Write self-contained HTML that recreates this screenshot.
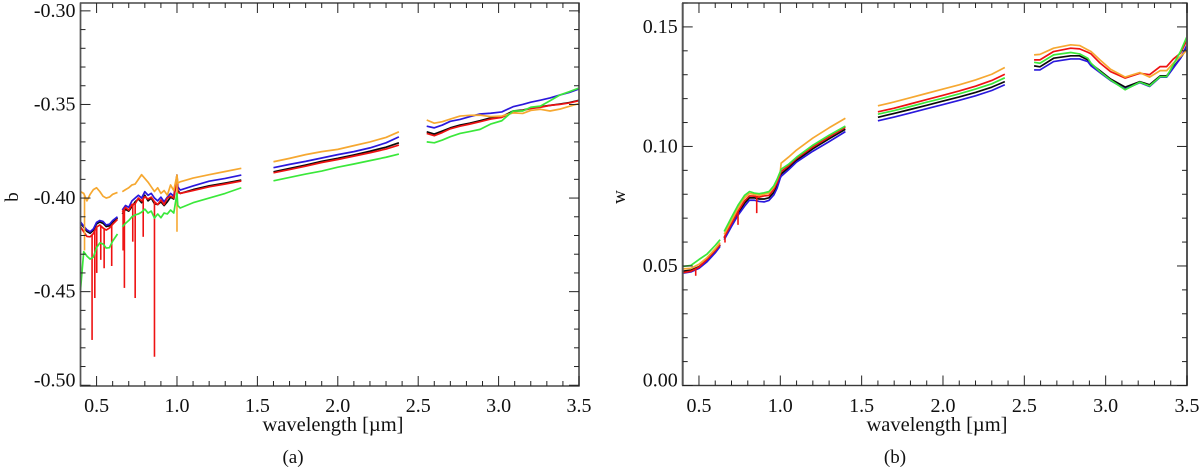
<!DOCTYPE html>
<html lang="en">
<head>
<meta charset="utf-8">
<title>Spectral parameters b and w versus wavelength</title>
<style>
html,body{margin:0;padding:0;background:#fff;}
body{width:1200px;height:467px;overflow:hidden;}
svg{display:block;font-family:"Liberation Serif",serif;}
text{fill:#111;}
</style>
</head>
<body>
<svg id="figure" xmlns="http://www.w3.org/2000/svg" width="1200" height="467" viewBox="0 0 1200 467"></svg>
<script>
// ---------- Panel (a): asymmetry parameter b ----------
const leftWl = [.40,.42,.44,.46,.48,.50,.52,.54,.56,.58,.60,.63,null,
 .66,.68,.70,.72,.74,.76,.78,.80,.82,.84,.86,.88,.90,.92,.94,.96,.98,1.00,1.005,1.02,1.1,1.2,1.3,1.4,null,
 1.6,1.7,1.8,1.9,2.0,2.1,2.2,2.3,2.38,null,
 2.553,2.6,2.65,2.7,2.76,2.82,2.885,2.95,3.02,3.09,3.15,3.2,3.26,3.32,3.38,3.44,3.5];
const leftBlack = [-.4135,-.4155,-.4178,-.4188,-.4172,-.4138,-.4128,-.4135,-.4152,-.4148,-.4128,-.4106,null,
 -.4085,-.406,-.407,-.4045,-.402,-.4005,-.4025,-.3985,-.4015,-.4,-.403,-.4035,-.402,-.404,-.402,-.3995,-.4005,-.389,-.396,-.3975,-.3955,-.3935,-.392,-.3904,null,
 -.386,-.3842,-.3824,-.3804,-.3788,-.377,-.375,-.3728,-.3705,null,
 -.3646,-.3658,-.3642,-.3625,-.361,-.36,-.3587,-.3572,-.3565,-.3535,-.353,-.352,-.3512,-.3505,-.3498,-.349,-.3478];
const leftBlue = [-.4127,-.415,-.417,-.418,-.4165,-.413,-.412,-.4125,-.4144,-.414,-.412,-.41,null,
 -.4064,-.404,-.405,-.4015,-.4,-.3985,-.4,-.3966,-.3985,-.3975,-.4,-.4015,-.3995,-.402,-.3995,-.3975,-.399,-.3877,-.394,-.3957,-.3935,-.391,-.3895,-.3877,null,
 -.3838,-.382,-.3804,-.3786,-.3768,-.3752,-.3732,-.3705,-.3673,null,
 -.3616,-.3625,-.361,-.359,-.358,-.3565,-.3551,-.3547,-.354,-.3512,-.35,-.3488,-.3477,-.3465,-.345,-.3436,-.3417];
const leftRed = [-.4153,-.418,-.4205,-.4207,-.419,-.4155,-.4144,-.416,-.4171,-.416,-.414,-.4114,null,
 -.4073,-.405,-.4065,-.4035,-.403,-.4,-.4015,-.3993,-.4005,-.3995,-.402,-.4035,-.401,-.4035,-.4,-.399,-.4,-.388,-.397,-.3975,-.396,-.394,-.3925,-.3909,null,
 -.3865,-.3848,-.383,-.381,-.3794,-.3776,-.3758,-.3738,-.3717,null,
 -.3655,-.3667,-.365,-.363,-.3616,-.3605,-.3592,-.3578,-.3569,-.354,-.3532,-.3522,-.3515,-.3505,-.35,-.3492,-.348];
const leftOrange = [-.3966,-.3975,-.4015,-.398,-.3955,-.3945,-.3965,-.399,-.4,-.3995,-.398,-.397,null,
 -.3966,-.3955,-.3945,-.393,-.3925,-.39,-.3875,-.3895,-.3915,-.394,-.3965,-.3945,-.3975,-.396,-.3985,-.393,-.396,-.3877,-.392,-.3913,-.3893,-.3875,-.3858,-.3841,null,
 -.3806,-.3788,-.3768,-.3752,-.374,-.372,-.37,-.3676,-.3646,null,
 -.3583,-.36,-.3592,-.3578,-.3562,-.3558,-.3557,-.3565,-.3562,-.3545,-.3548,-.3532,-.3526,-.3535,-.3525,-.351,-.3495];
const leftGreen = [-.449,-.4287,-.431,-.4326,-.4315,-.4265,-.424,-.4245,-.4267,-.4265,-.423,-.4192,null,
 -.4153,-.4135,-.412,-.41,-.409,-.4085,-.4075,-.4059,-.408,-.407,-.4107,-.4085,-.4105,-.408,-.4085,-.4064,-.408,-.3974,-.404,-.4053,-.4025,-.4,-.3975,-.3945,null,
 -.3908,-.389,-.3872,-.3856,-.3835,-.3818,-.38,-.3782,-.3765,null,
 -.37,-.3705,-.369,-.3672,-.3655,-.3645,-.3633,-.3605,-.3587,-.3535,-.3535,-.3515,-.3509,-.348,-.345,-.3432,-.3412];
const leftRedSpikeWl = [.472,.489,.501,.526,.547,.594,.665,.673,.725,.74,.79,.86];
const leftRedSpikeVal = [-.4758,-.4534,-.44,-.433,-.4375,-.4363,-.428,-.448,-.4233,-.4534,-.4207,-.4848];
const leftOrangeSpikeWl = [.425,1.0];
const leftOrangeSpikeVal = [-.428,-.418];
const leftYTicks = [-.50,-.45,-.40,-.35,-.30];
const leftYLabels = ["-0.50","-0.45","-0.40","-0.35","-0.30"];

// ---------- Panel (b): single scattering albedo w ----------
const rightWl = [.40,.45,.50,.55,.60,.63,null,
 .655,.70,.74,.78,.81,.84,.87,.90,.93,.96,.98,1.0,1.005,1.05,1.1,1.2,1.3,1.4,null,
 1.6,1.7,1.8,1.9,2.0,2.1,2.2,2.3,2.38,null,
 2.56,2.596,2.68,2.785,2.84,2.89,2.91,2.965,3.03,3.12,3.21,3.27,3.335,3.375,3.415,3.46,3.5];
const rightBlack = [.0478,.0482,.0497,.0525,.056,.0588,null,
 .0617,.0672,.072,.0762,.0785,.0785,.078,.078,.0785,.0808,.0835,.0875,.0885,.091,.0942,.099,.1032,.1072,null,
 .1122,.1138,.1155,.1172,.119,.1207,.1226,.1248,.1271,null,
 .1337,.1333,.1369,.1379,.1379,.1362,.1345,.1317,.1282,.1248,.1271,.1258,.1295,.1295,.1331,.1369,.1412];
const rightBlue = [.047,.0475,.049,.0518,.0555,.0582,null,
 .061,.0665,.0712,.075,.0775,.0775,.077,.0768,.0774,.0797,.0825,.0868,.0875,.0902,.0935,.098,.102,.1062,null,
 .1107,.1123,.114,.1158,.1175,.1193,.1212,.1234,.1258,null,
 .132,.132,.1355,.1366,.1366,.1355,.1337,.1309,.1276,.124,.1267,.1251,.129,.129,.1327,.1369,.1425];
const rightRed = [.0472,.0478,.0495,.0528,.0565,.059,null,
 .062,.0678,.0728,.0772,.0793,.0792,.0788,.0793,.0795,.082,.0848,.0885,.0895,.0918,.095,.0998,.104,.108,null,
 .1145,.116,.1178,.1196,.1214,.1232,.1252,.1276,.1302,null,
 .1362,.1362,.1397,.1411,.1408,.1394,.1387,.1349,.1313,.1286,.1306,.13,.1334,.1334,.1365,.139,.1445];
const rightOrange = [.0488,.049,.0507,.0535,.0572,.0598,null,
 .0632,.069,.0742,.0785,.0803,.08,.0795,.08,.0805,.083,.086,.0895,.093,.0955,.0985,.1035,.1078,.1118,null,
 .117,.1186,.1204,.1222,.124,.1258,.1278,.1302,.133,null,
 .1383,.1385,.1411,.1425,.1422,.1404,.1397,.1362,.1323,.129,.1309,.129,.1317,.1317,.1348,.1376,.1404];
const rightGreen = [.0498,.0502,.0527,.055,.0586,.061,null,
 .0644,.0703,.0754,.0795,.0811,.0805,.0802,.0806,.0811,.0835,.0862,.0895,.0905,.0925,.0955,.1005,.1047,.1085,null,
 .1135,.115,.1167,.1185,.1202,.122,.124,.1262,.1287,null,
 .1352,.1348,.1383,.1393,.1387,.1369,.1348,.1313,.1278,.1237,.1269,.1253,.1292,.1292,.1341,.1397,.146];
const rightRedSpikeWl = [.48,.66,.74,.855];
const rightRedSpikeVal = [.0459,.0598,.0672,.0721];
const rightOrangeSpikeWl = [];
const rightOrangeSpikeVal = [];
const rightYTicks = [0,.05,.10,.15];
const rightYLabels = ["0.00","0.05","0.10","0.15"];

// ---------- Shared x axis ----------
const xTicks = [.5,1,1.5,2,2.5,3,3.5];
const xLabels = ["0.5","1.0","1.5","2.0","2.5","3.0","3.5"];

const NS = 'http://www.w3.org/2000/svg';
const svg = document.getElementById('figure');
function el(tag, attrs, parent, txt){
  const e = document.createElementNS(NS, tag);
  for (const k in attrs) e.setAttribute(k, attrs[k]);
  if (txt !== undefined) e.textContent = txt;
  parent.appendChild(e);
  return e;
}
function scale(d0,d1,r0,r1){ return v => r0 + (v-d0)/(d1-d0)*(r1-r0); }
function interp(wl, vals, x){
  for (let i=0;i<wl.length-1;i++){
    if (wl[i]===null||wl[i+1]===null) continue;
    if (x>=wl[i] && x<=wl[i+1]) return vals[i]+(x-wl[i])/(wl[i+1]-wl[i])*(vals[i+1]-vals[i]);
  }
  let best=0,bd=1e9;
  wl.forEach((w,i)=>{ if(w!==null && Math.abs(w-x)<bd){bd=Math.abs(w-x);best=i;} });
  return vals[best];
}
function drawPanel(p){
  const g = el('g',{},svg);
  
  
  const X = scale(.4,3.5,p.x0,p.x1), Y = scale(p.yMin,p.yMax,p.y0,p.y1);

  // curves, drawn back to front
  const series = [
    ['black','#0a0a0a',p.black],['blue','#2a18dc',p.blue],['red','#ee1212',p.red],
    ['orange','#f6a831',p.orange],['green','#3ae83a',p.green]
  ];
  series.forEach(s=>{
    let d='', pen=false;
    p.wl.forEach((w,i)=>{
      if (w===null){ pen=false; return; }
      d += (pen?'L':'M') + X(w).toFixed(2) + ' ' + Y(s[2][i]).toFixed(2);
      pen = true;
    });
    const path = el('path',{d:d,fill:'none',stroke:s[1],'stroke-width':1.7,'stroke-linejoin':'round'},g);
    
    
    if (s[0]==='red' || s[0]==='orange'){
      const sw = s[0]==='red'?p.redSpikeWl:p.orangeSpikeWl;
      const sv = s[0]==='red'?p.redSpikeVal:p.orangeSpikeVal;
      sw.forEach((w,i)=>{
        const l = el('line',{x1:X(w),x2:X(w),y1:Y(interp(p.wl,s[2],w)),y2:Y(sv[i]),stroke:s[1],'stroke-width':1.6},g);
        
        
      });
    }
  });

  // frame
  const frame = el('rect',{x:p.x0,y:p.y1,width:p.x1-p.x0,height:p.y0-p.y1,fill:'none',stroke:'#3a3a3a','stroke-width':1.4},g);
  
  
  [p.x0,p.x1].forEach(x=>{
    const s = el('line',{x1:x,x2:x,y1:p.y1,y2:p.y0,stroke:'#555','stroke-width':p.sideW},g);
    
    
  });

  // ticks
  const tick = (x1,y1,x2,y2)=>{
    const t = el('line',{x1,y1,x2,y2,stroke:'#222','stroke-width':1},g);
    
    
  };
  for (let i=4;i<=35;i++){
    const v=i/10, L=(i%5===0)?10:5, x=X(v);
    if (i===4) continue;
    tick(x,p.y0,x,p.y0-L);
    tick(x,p.y1,x,p.y1+L);
  }
  const yStep=.01, n=Math.round((p.yMax-p.yMin)/yStep)+1;
  const first=Math.ceil(p.yMin/yStep-1e-6);
  for (let i=0;i<n;i++){
    const k=first+i, v=k*yStep;
    if (v>p.yMax+1e-6) break;
    const L=(k%5===0)?10:5, y=Y(v);
    tick(p.x0,y,p.x0+L,y);
    tick(p.x1,y,p.x1-L,y);
  }

  // tick labels
  xTicks.forEach((v,i)=>{
    const t = el('text',{x:X(v),y:412,'text-anchor':'middle','font-size':20},g,xLabels[i]);
    
    
  });
  p.yTicks.forEach((v,i)=>{
    const t = el('text',{x:p.x0-5,y:Y(v)+(v===p.yTicks[0]?1:6),'text-anchor':'end','font-size':20},g,p.yLabels[i]);
    
    
  });

  // axis titles
  const xt = el('text',{x:p.xTitleX,y:431,'text-anchor':'middle','font-size':20.5},g,'wavelength [µm]');
  
  
  const yt = el('text',{x:p.yTitleX,y:197,'text-anchor':'middle','font-size':19,transform:'rotate(-90 '+p.yTitleX+' 197)'},g,p.yTitle);
  
  
  const cap = el('text',{x:p.capX,y:463,'text-anchor':'middle','font-size':19},g,p.caption);
  
  
}

drawPanel({name:'panel-a-b-parameter',x0:80.5,x1:579,y0:386,y1:3,yMin:-.5004,yMax:-.2958,sideW:1.5,
  wl:leftWl,black:leftBlack,blue:leftBlue,red:leftRed,orange:leftOrange,green:leftGreen,
  redSpikeWl:leftRedSpikeWl,redSpikeVal:leftRedSpikeVal,orangeSpikeWl:leftOrangeSpikeWl,orangeSpikeVal:leftOrangeSpikeVal,
  yTicks:leftYTicks,yLabels:leftYLabels,yTitle:'b',yTitleX:18,xTitleX:333,capX:293,caption:'(a)'});
drawPanel({name:'panel-b-w-parameter',x0:682.7,x1:1187,y0:385.5,y1:3,yMin:0,yMax:.16,sideW:2,
  wl:rightWl,black:rightBlack,blue:rightBlue,red:rightRed,orange:rightOrange,green:rightGreen,
  redSpikeWl:rightRedSpikeWl,redSpikeVal:rightRedSpikeVal,orangeSpikeWl:rightOrangeSpikeWl,orangeSpikeVal:rightOrangeSpikeVal,
  yTicks:rightYTicks,yLabels:rightYLabels,yTitle:'w',yTitleX:625,xTitleX:937,capX:895,caption:'(b)'});
</script>
</body>
</html>
